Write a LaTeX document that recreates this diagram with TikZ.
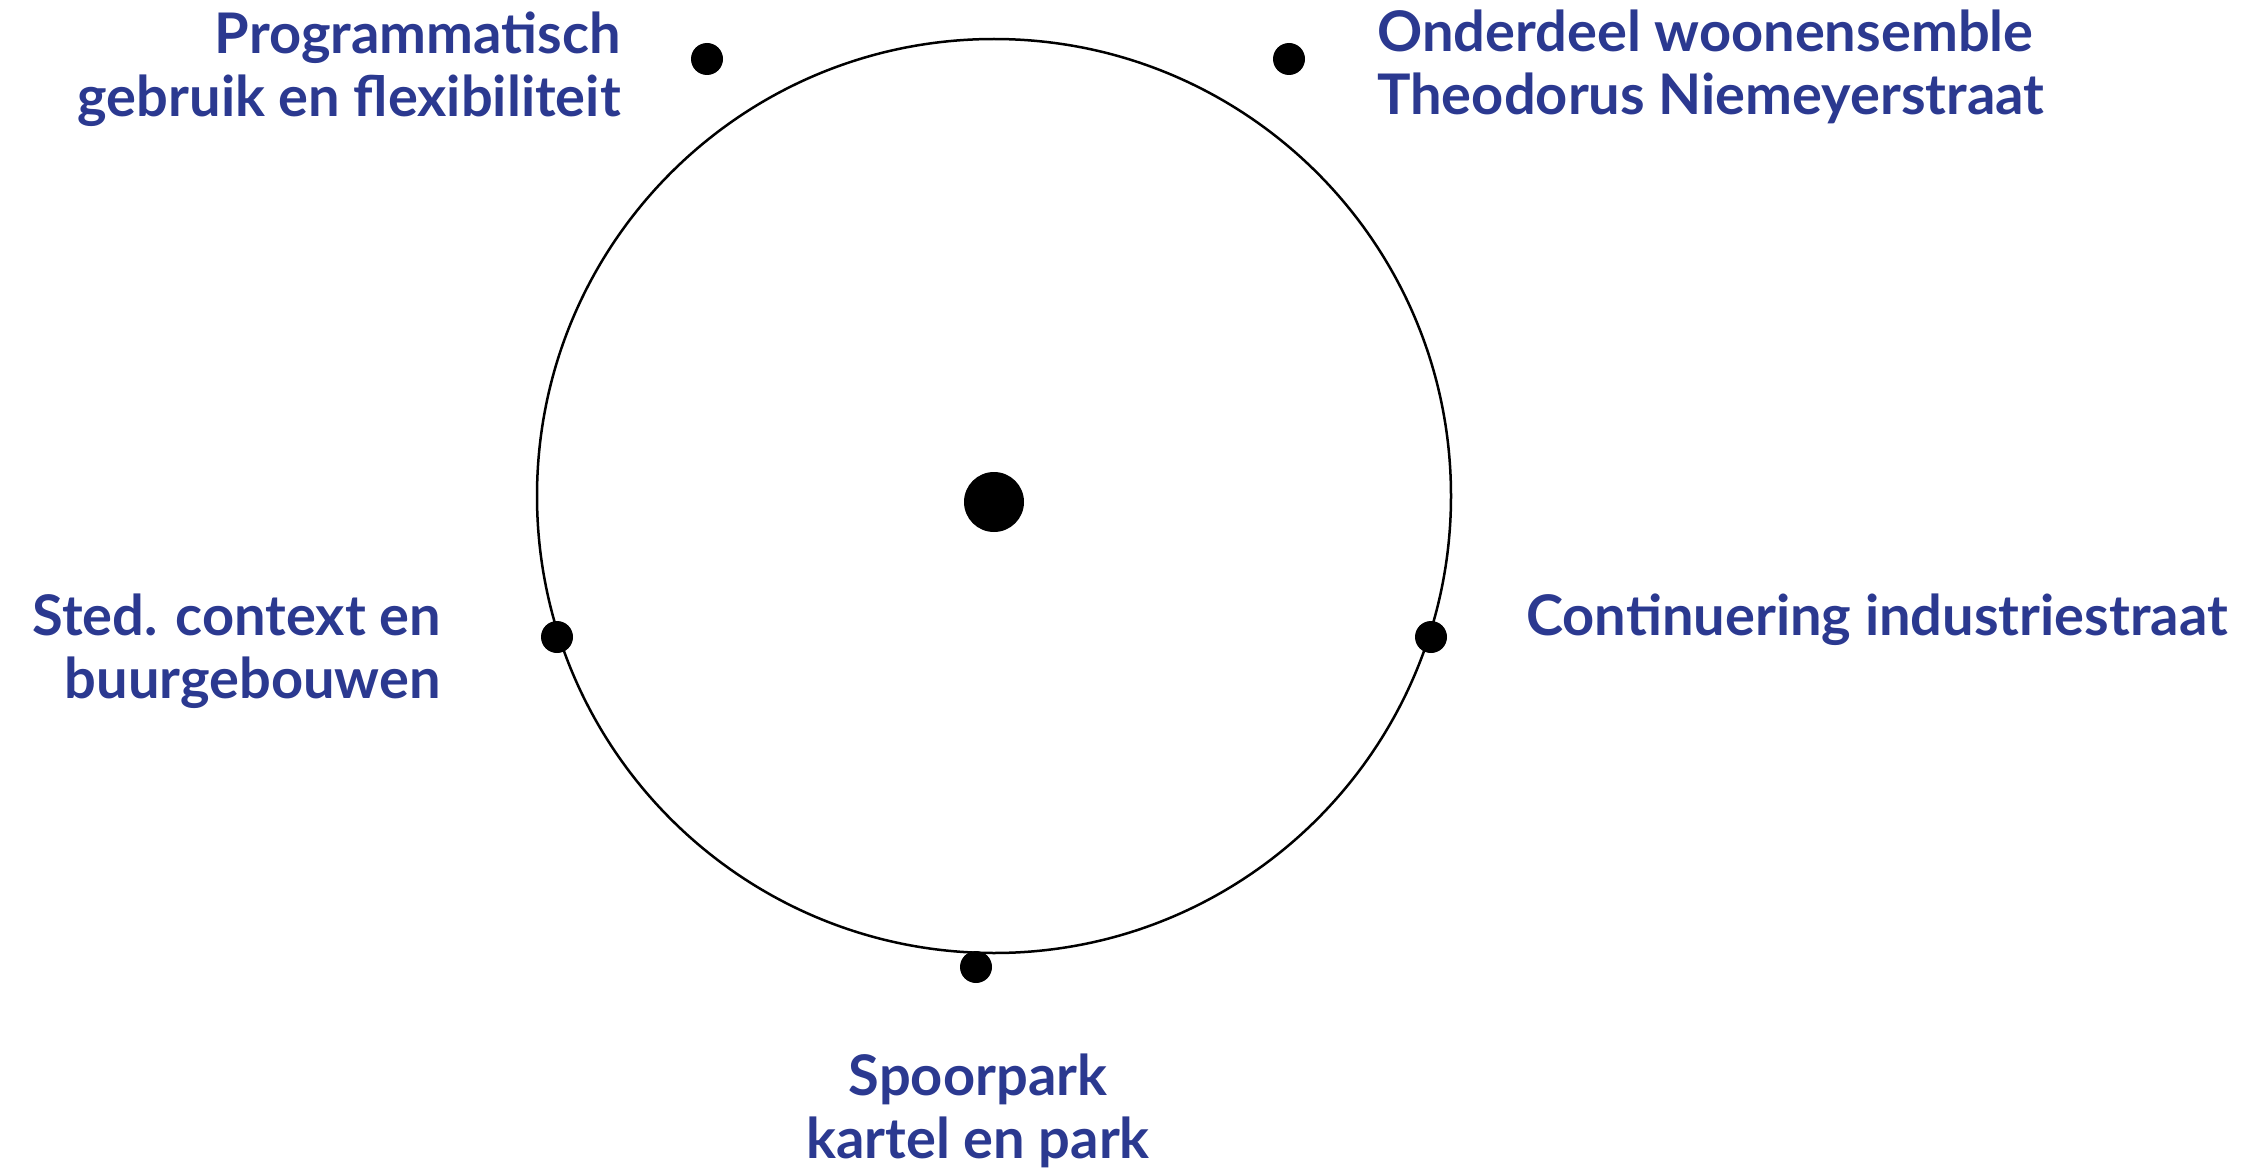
\documentclass[tikz,border=0pt]{standalone}
\usepackage{fontspec}
\setmainfont{Lato}
\definecolor{labelblue}{HTML}{2B3990}
\begin{document}
\begin{tikzpicture}[x=1pt,y=-1pt,
  lbl/.style={inner sep=0pt, text=labelblue, font=\fontsize{56}{63}\selectfont\bfseries},
  dotsmall/.style={circle, fill=black, inner sep=0pt, minimum size=32pt},
  dotbig/.style={circle, fill=black, inner sep=0pt, minimum size=60pt}]
\useasboundingbox (0,0) rectangle (2249,1169);
\node[draw=black, line width=2.5pt, circle, inner sep=0pt, minimum size=914pt] (ring) at (994,496) {};
\node[dotbig] (center) at (994,502) {};
\node[dotsmall] (dtl) at (707,59) {};
\node[dotsmall] (dtr) at (1289,59) {};
\node[dotsmall] (dl) at (557,637) {};
\node[dotsmall] (dr) at (1431,637) {};
\node[dotsmall] (db) at (976,967) {};
\node[lbl, anchor=base east, align=right] (ltl) at (621,117) {Programmatisch\\gebruik en flexibiliteit};
\node[lbl, anchor=base west, align=left] (ltr) at (1377,115) {Onderdeel woonensemble\\Theodorus Niemeyerstraat};
\node[lbl, anchor=base east, align=right] (ll) at (441,698) {Sted. context en\\buurgebouwen};
\node[lbl, anchor=base west, align=left] (lr) at (1526,635) {Continuering industriestraat};
\node[lbl, anchor=base, align=center] (lb) at (978,1158) {Spoorpark\\kartel en park};
\end{tikzpicture}
\end{document}
